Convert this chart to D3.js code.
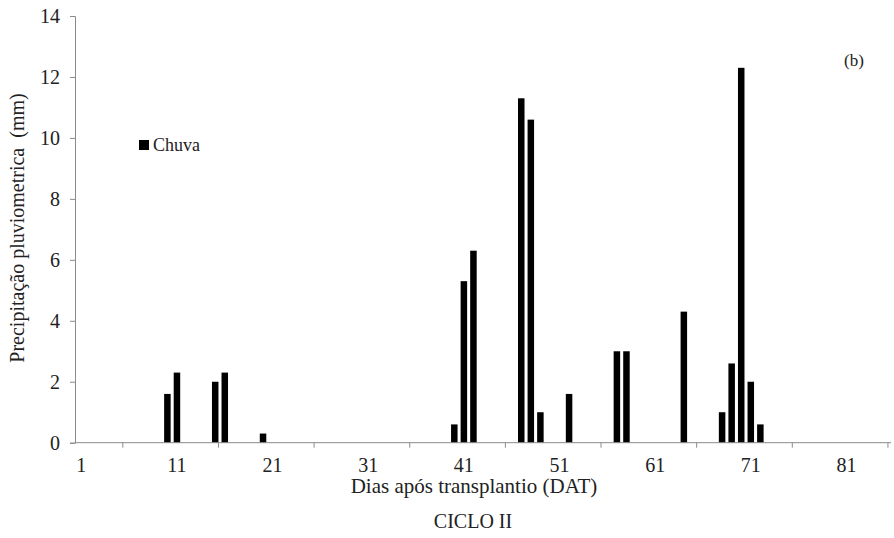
<!DOCTYPE html>
<html>
<head>
<meta charset="utf-8">
<script src="https://cdn.jsdelivr.net/npm/d3@7"></script>
<style>
  body { margin: 0; background: #fff; }
</style>
</head>
<body>
<div id="chart"></div>
<script>
(function(){

  var width = 894;
  var height = 538;
  var margin = { top: 16, right: 3, bottom: 95, left: 75 };
  var font = '"Liberation Serif", "Times New Roman", serif';

  // days after transplant 1..85 (category axis)
  var days = d3.range(1, 86);
  // days with rain and the rain (mm)
  var rainDays = [10, 11, 15, 16, 20, 40, 41, 42, 47, 48, 49, 52, 57, 58, 64, 68, 69, 70, 71, 72];
  var rainMm   = [1.6, 2.3, 2.0, 2.3, 0.3, 0.6, 5.3, 6.3, 11.3, 10.6, 1.0, 1.6, 3.0, 3.0, 4.3, 1.0, 2.6, 12.3, 2.0, 0.6];
  var xTickLabels = [1, 11, 21, 31, 41, 51, 61, 71, 81];
  var yTicks = [0, 2, 4, 6, 8, 10, 12, 14];

  var data = rainDays.map(function(d, i) { return { day: d, mm: rainMm[i] }; });

  var x = d3.scaleBand()
            .domain(days)
            .range([margin.left, width - margin.right])
            .padding(0.32);

  var y = d3.scaleLinear()
            .domain([0, 14])
            .range([height - margin.bottom - 0.3, margin.top]);

  var svg = d3.select('#chart')
              .append('svg')
              .attr('width', width)
              .attr('height', height);

  var axisColor = '#8a8a8a';

  // bars
  svg.selectAll('rect.bar')
     .data(data)
     .enter()
     .append('rect')
     .attr('class', 'bar')
     .attr('x', function(d) { return x(d.day); })
     .attr('y', function(d) { return y(d.mm); })
     .attr('width', x.bandwidth())
     .attr('height', function(d) { return y(0) - y(d.mm); })
     .attr('fill', '#000');

  // y axis
  var yAxis = svg.append('g')
     .attr('transform', 'translate(' + margin.left + ',0)')
     .call(d3.axisLeft(y).tickValues(yTicks).tickSize(5).tickPadding(10));
  yAxis.selectAll('path, line').attr('stroke', axisColor);
  yAxis.selectAll('text')
     .style('font-family', font)
     .style('font-size', '20px')
     .attr('fill', '#222');

  // x axis: tick marks between category groups, labels every 10 days
  var step = x.step();
  var x0 = margin.left;
  var markDays = d3.range(5, 86, 10);
  var xAxisG = svg.append('g');
  xAxisG.append('line')
     .attr('x1', x0).attr('x2', width - margin.right)
     .attr('y1', y(0)).attr('y2', y(0))
     .attr('stroke', axisColor);
  xAxisG.selectAll('line.mark')
     .data(markDays)
     .enter()
     .append('line')
     .attr('class', 'mark')
     .attr('x1', function(d) { return x0 + d * step; })
     .attr('x2', function(d) { return x0 + d * step; })
     .attr('y1', y(0)).attr('y2', y(0) + 5)
     .attr('stroke', axisColor);
  xAxisG.selectAll('text')
     .data(xTickLabels)
     .enter()
     .append('text')
     .attr('x', function(d) { return x(d) + x.bandwidth() / 2; })
     .attr('y', y(0) + 29)
     .attr('text-anchor', 'middle')
     .attr('fill', '#222')
     .style('font-family', font)
     .style('font-size', '20px')
     .text(function(d) { return d; });

  function label(txt, size) {
    return svg.append('text')
       .attr('fill', '#222')
       .style('font-family', font)
       .style('font-size', size + 'px')
       .text(txt);
  }

  // titles
  label('Dias após transplantio (DAT)', 21)
     .attr('x', 474).attr('y', 493)
     .attr('text-anchor', 'middle');

  label('CICLO II', 20)
     .attr('x', 473).attr('y', 528)
     .attr('text-anchor', 'middle');

  label('Precipitação pluviometrica  (mm)', 20)
     .attr('transform', 'translate(24,228) rotate(-90)')
     .attr('text-anchor', 'middle')
     .style('white-space', 'pre');

  label('(b)', 17)
     .attr('x', 854).attr('y', 66)
     .attr('text-anchor', 'middle');

  // legend
  svg.append('rect')
     .attr('x', 139).attr('y', 140)
     .attr('width', 10).attr('height', 10)
     .attr('fill', '#000');
  label('Chuva', 18)
     .attr('x', 153).attr('y', 151);

})();
</script>
</body>
</html>
